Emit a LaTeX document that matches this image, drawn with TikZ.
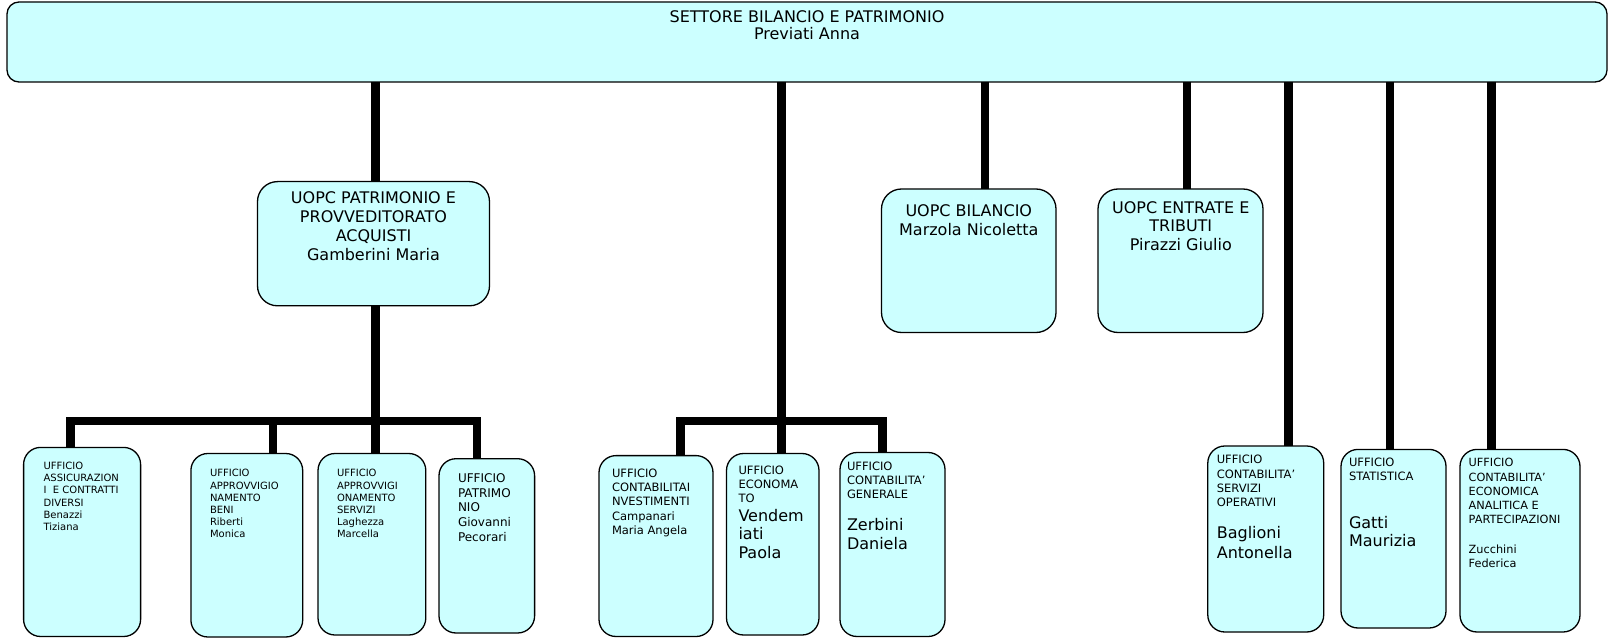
\documentclass[tikz,border=0pt]{standalone}
\usepackage{fontspec}
\setmainfont{DejaVu Sans}
\definecolor{boxfill}{RGB}{204,255,255}
\newcommand\mybox[6]{\node[box, rounded corners=#6pt, minimum width={#4pt-#2pt}, minimum height={#5pt-#3pt}] (#1) at (#2,#3) {};}
\begin{document}
\begin{tikzpicture}[x=1pt,y=-1pt,
  box/.style={draw=black, fill=boxfill, line width=1.3pt, inner sep=0pt, outer sep=0pt, anchor=north west},
  txt/.style={anchor=north west, inner sep=0pt, outer sep=0pt, align=left},
  ctxt/.style={anchor=north, inner sep=0pt, outer sep=0pt, align=center, font=\fontsize{16}{19}\selectfont},
  small/.style={font=\fontsize{10}{12.2}\selectfont},
  mid/.style={font=\fontsize{11.5}{14.2}\selectfont},
  big/.style={font=\fontsize{16}{19}\selectfont},
  conn/.style={draw=black, line width=8.5pt, line cap=butt, line join=miter}]
\useasboundingbox (0,0) rectangle (1609,639);
% boxes
\mybox{top}{7}{2}{1607}{82}{12}
\mybox{P}{257.5}{181.6}{489.5}{305.8}{20}
\mybox{B}{881.5}{189}{1056}{332.5}{20}
\mybox{E}{1098}{189}{1263}{332.5}{20}
\mybox{b1}{23.6}{447.4}{140.6}{636.5}{17}
\mybox{b2}{190.9}{453.5}{302.7}{637}{17}
\mybox{b3}{318}{453.5}{425.8}{635}{17}
\mybox{b4}{439}{458.7}{534.6}{633}{17}
\mybox{b5}{599}{455.6}{713}{636.5}{17}
\mybox{b6}{726.5}{453.5}{819}{635}{17}
\mybox{b7}{840}{452.5}{945}{636.5}{17}
\mybox{b8}{1207.8}{446}{1323.7}{632}{17}
\mybox{b9}{1341}{449.4}{1446}{628}{17}
\mybox{b10}{1460}{449.4}{1580}{632}{17}
% texts
\node[ctxt, font=\fontsize{16}{17.5}\selectfont] (ttop) at (807,10.4) {SETTORE BILANCIO E PATRIMONIO\\Previati Anna};
\node[ctxt] (tP) at (373.5,191.5) {UOPC PATRIMONIO E\\PROVVEDITORATO\\ACQUISTI\\Gamberini Maria};
\node[ctxt, font=\fontsize{16}{18.3}\selectfont] (tB) at (968.8,205) {UOPC BILANCIO\\Marzola Nicoletta};
\node[ctxt, font=\fontsize{16}{18.3}\selectfont] (tE) at (1180.8,201.7) {UOPC ENTRATE E\\TRIBUTI\\Pirazzi Giulio};
\node[txt, small] (t1) at (43.6,462) {UFFICIO\\ASSICURAZION\\I\ \ E CONTRATTI\\DIVERSI\\Benazzi\\Tiziana};
\node[txt, small] (t2) at (210,469.5) {UFFICIO\\APPROVVIGIO\\NAMENTO\\BENI\\Riberti\\Monica};
\node[txt, small] (t3) at (337,469.5) {UFFICIO\\APPROVVIGI\\ONAMENTO\\SERVIZI\\Laghezza\\Marcella};
\node[txt, font=\fontsize{12}{14.6}\selectfont] (t4) at (458,473.7) {UFFICIO\\PATRIMO\\NIO\\Giovanni\\Pecorari};
\node[txt, mid] (t5) at (612,469) {UFFICIO\\CONTABILITAI\\NVESTIMENTI\\Campanari\\Maria Angela};
\node[txt, mid] (t6) at (738.5,465.5) {UFFICIO\\ECONOMA\\TO};
\node[txt, big, font=\fontsize{16}{18.5}\selectfont] (t6b) at (738.5,509) {Vendem\\iati\\Paola};
\node[txt, mid] (t7) at (847,461.5) {UFFICIO\\CONTABILITA’\\GENERALE};
\node[txt, big] (t7b) at (847,518.5) {Zerbini\\Daniela};
\node[txt, mid] (t8) at (1216.8,455.3) {UFFICIO\\CONTABILITA’\\SERVIZI\\OPERATIVI};
\node[txt, big, font=\fontsize{16}{19.3}\selectfont] (t8b) at (1216.8,526.7) {Baglioni\\Antonella};
\node[txt, mid] (t9) at (1349,457.7) {UFFICIO\\STATISTICA};
\node[txt, big, font=\fontsize{16}{18.5}\selectfont] (t9b) at (1349,516) {Gatti\\Maurizia};
\node[txt, mid, font=\fontsize{11.3}{14.3}\selectfont] (t10) at (1468.7,458.4) {UFFICIO\\CONTABILITA{\char"27}\\ECONOMICA\\ANALITICA E\\PARTECIPAZIONI};
\node[txt, mid, font=\fontsize{11.3}{14.3}\selectfont] (t10b) at (1468.7,544.5) {Zucchini\\Federica};
% connector positions
\coordinate (x1) at (375.5,0);
\coordinate (x2) at (781.5,0);
\coordinate (x3) at (985,0);
\coordinate (x4) at (1187,0);
\coordinate (x5) at (1288.5,0);
\coordinate (x6) at (1390,0);
\coordinate (x7) at (1491.5,0);
\coordinate (d1) at (70.5,0);
\coordinate (d2) at (273,0);
\coordinate (d4) at (477,0);
\coordinate (d5) at (680.5,0);
\coordinate (d7) at (882.5,0);
\coordinate (ybar) at (0,421);
% connectors
\draw[conn] (top.south -| x1) -- (P.north -| x1);
\draw[conn] (P.south -| x1) -- (b3.north -| x1);
\draw[conn] (b1.north -| d1) -- (d1 |- ybar) -- (d4 |- ybar) -- (b4.north -| d4);
\draw[conn] (b2.north -| d2) -- (d2 |- ybar);
\draw[conn] (top.south -| x2) -- (b6.north -| x2);
\draw[conn] (b5.north -| d5) -- (d5 |- ybar) -- (d7 |- ybar) -- (b7.north -| d7);
\draw[conn] (top.south -| x3) -- (B.north -| x3);
\draw[conn] (top.south -| x4) -- (E.north -| x4);
\draw[conn] (top.south -| x5) -- (b8.north -| x5);
\draw[conn] (top.south -| x6) -- (b9.north -| x6);
\draw[conn] (top.south -| x7) -- (b10.north -| x7);
\end{tikzpicture}
\end{document}
